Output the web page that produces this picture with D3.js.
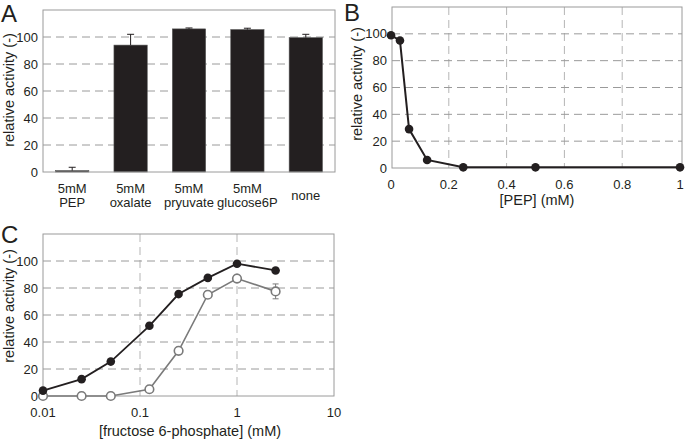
<!DOCTYPE html>
<html><head><meta charset="utf-8">
<script src="https://cdn.jsdelivr.net/npm/d3@7"></script>
<style>
html,body{margin:0;padding:0;background:#fff;}
text{font-family:"Liberation Sans",Arial,Helvetica,sans-serif;fill:#231f20;}
</style></head>
<body><svg id="c" width="685" height="439"></svg>
<script>
// Panel A data
const catA = ["5mM|PEP", "5mM|oxalate", "5mM|pryuvate", "5mM|glucose6P", "none"];
const valA = [1, 94, 106, 105.5, 99.5];
const errA = [2.5, 8, 0.7, 1, 2.5];
// Panel B data
const pepX = [0, 0.031, 0.0625, 0.125, 0.25, 0.5, 1];
const pepY = [99, 95, 29, 6, 0.5, 0.5, 0.5];
// Panel C data
const f6pX = [0.01, 0.025, 0.05, 0.125, 0.25, 0.5, 1, 2.5];
const filledY = [4, 12.5, 25.5, 52, 75.5, 87.5, 98, 93];
const openY = [0, 0, 0, 5, 33.5, 75, 87, 77.5];
const openErr = [0, 0, 0, 0, 0, 0, 0, 5.5];
const yTicks = [0, 20, 40, 60, 80, 100];
const bTicks = [0, 0.2, 0.4, 0.6, 0.8, 1];
const cTicks = [0.01, 0.1, 1, 10];

const svg = d3.select("#c");
const ink = "#231f20", gridC = "#9a9a9a", frameC = "#9a9a9a";
const dash = "8,5";

function frame(g, x0, x1, y0, y1) {
  g.append("rect").attr("x", x0).attr("y", y0).attr("width", x1 - x0).attr("height", y1 - y0)
    .attr("fill", "none").attr("stroke", frameC).attr("stroke-width", 1);
}
function yAxis(g, y, x0, x1, labX) {
  g.selectAll(".hg").data(yTicks.filter(d => d > 0)).join("line")
    .attr("x1", x0).attr("x2", x1).attr("y1", d => y(d)).attr("y2", d => y(d))
    .attr("stroke", gridC).attr("stroke-dasharray", dash);
  g.selectAll(".yt").data(yTicks).join("text")
    .attr("x", labX).attr("y", d => y(d) + 4.5).attr("text-anchor", "end")
    .attr("font-size", 13).text(d => d);
}
function yLabel(g, x, y) {
  g.append("text").attr("transform", `translate(${x},${y}) rotate(-90)`)
    .attr("text-anchor", "middle").attr("font-size", 14.5).text("relative activity (-)");
}
function panelLetter(g, t, x, y) {
  g.append("text").attr("x", x).attr("y", y).attr("font-size", 24).text(t);
}

// ---------- Panel A ----------
{
  const g = svg.append("g");
  const x0 = 43, x1 = 335, y0 = 10, y1 = 172;
  const x = d3.scaleBand().domain(catA).range([x0, x1]).paddingInner(0.43).paddingOuter(0.215);
  const y = d3.scaleLinear().domain([0, 120]).range([y1, y0]);
  yAxis(g, y, x0, x1, 38);
  g.selectAll(".bar").data(catA).join("rect")
    .attr("x", d => x(d)).attr("width", x.bandwidth())
    .attr("y", (d, i) => y(valA[i])).attr("height", (d, i) => y(0) - y(valA[i]))
    .attr("fill", ink).attr("stroke", "#555").attr("stroke-width", 0.6);
  const eb = g.selectAll(".eb").data(catA).join("g");
  eb.append("line").attr("x1", d => x(d) + x.bandwidth() / 2).attr("x2", d => x(d) + x.bandwidth() / 2)
    .attr("y1", (d, i) => y(valA[i])).attr("y2", (d, i) => y(valA[i] + errA[i]))
    .attr("stroke", ink).attr("stroke-width", 1);
  eb.append("line").attr("x1", d => x(d) + x.bandwidth() / 2 - 3.5).attr("x2", d => x(d) + x.bandwidth() / 2 + 3.5)
    .attr("y1", (d, i) => y(valA[i] + errA[i])).attr("y2", (d, i) => y(valA[i] + errA[i]))
    .attr("stroke", ink).attr("stroke-width", 1);
  frame(g, x0, x1, y0, y1);
  const lab = g.selectAll(".xl").data(catA).join("text")
    .attr("text-anchor", "middle").attr("font-size", 13);
  lab.each(function (d) {
    const parts = d.split("|");
    const t = d3.select(this);
    const cx = x(d) + x.bandwidth() / 2;
    if (parts.length === 1) {
      t.append("tspan").attr("x", cx).attr("y", 200).text(parts[0]);
    } else {
      parts.forEach((p, k) => t.append("tspan").attr("x", cx).attr("y", 193 + k * 14).text(p));
    }
  });
  yLabel(g, 14, 90);
  panelLetter(g, "A", 1, 22);
}

// ---------- Panel B ----------
{
  const g = svg.append("g");
  const x0 = 392, x1 = 682, y0 = 7, y1 = 168;
  const x = d3.scaleLinear().domain([0, 1]).range([391, 680]);
  const y = d3.scaleLinear().domain([0, 120]).range([y1, y0]);
  g.selectAll(".vg").data(bTicks.filter(d => d > 0 && d < 1)).join("line")
    .attr("x1", d => x(d)).attr("x2", d => x(d)).attr("y1", y0).attr("y2", y1)
    .attr("stroke", "#b5b5b5").attr("stroke-dasharray", dash);
  yAxis(g, y, x0, x1, 387);
  frame(g, x0, x1, y0, y1);
  g.selectAll(".xt").data(bTicks).join("text")
    .attr("x", d => x(d)).attr("y", 189).attr("text-anchor", "middle").attr("font-size", 13)
    .text(d => d3.format("")(d));
  const line = d3.line().x(d => x(d[0])).y(d => y(d[1]));
  const pts = pepX.map((v, i) => [v, pepY[i]]);
  g.append("path").attr("d", line(pts)).attr("fill", "none").attr("stroke", ink).attr("stroke-width", 2);
  g.selectAll(".pt").data(pts).join("circle").attr("cx", d => x(d[0])).attr("cy", d => y(d[1]))
    .attr("r", 4.3).attr("fill", ink);
  g.append("text").attr("x", 537).attr("y", 205).attr("text-anchor", "middle").attr("font-size", 14.5).text("[PEP] (mM)");
  yLabel(g, 362, 84);
  panelLetter(g, "B", 344, 21);
}

// ---------- Panel C ----------
{
  const g = svg.append("g");
  const x0 = 43, x1 = 334, y0 = 234, y1 = 396;
  const x = d3.scaleLog().domain([0.01, 10]).range([x0, x1]);
  const y = d3.scaleLinear().domain([0, 120]).range([y1, y0]);
  g.selectAll(".vg").data([0.1, 1]).join("line")
    .attr("x1", d => x(d)).attr("x2", d => x(d)).attr("y1", y0).attr("y2", y1)
    .attr("stroke", "#b5b5b5").attr("stroke-dasharray", dash);
  yAxis(g, y, x0, x1, 38);
  frame(g, x0, x1, y0, y1);
  g.selectAll(".xt").data(cTicks).join("text")
    .attr("x", d => x(d)).attr("y", 417).attr("text-anchor", "middle").attr("font-size", 13)
    .text(d => String(d));
  const line = d3.line().x(d => x(d[0])).y(d => y(d[1]));
  const op = f6pX.map((v, i) => [v, openY[i], openErr[i]]);
  const fp = f6pX.map((v, i) => [v, filledY[i]]);
  // open series (gray)
  g.append("path").attr("d", line(op)).attr("fill", "none").attr("stroke", "#7a7a7a").attr("stroke-width", 1.6);
  const oe = op.filter(d => d[2] > 0);
  const eg = g.selectAll(".oe").data(oe).join("g");
  eg.append("line").attr("x1", d => x(d[0])).attr("x2", d => x(d[0]))
    .attr("y1", d => y(d[1] - d[2])).attr("y2", d => y(d[1] + d[2])).attr("stroke", "#7a7a7a");
  [1, -1].forEach(s => eg.append("line").attr("x1", d => x(d[0]) - 3).attr("x2", d => x(d[0]) + 3)
    .attr("y1", d => y(d[1] + s * d[2])).attr("y2", d => y(d[1] + s * d[2])).attr("stroke", "#7a7a7a"));
  g.selectAll(".op").data(op).join("circle").attr("cx", d => x(d[0])).attr("cy", d => y(d[1]))
    .attr("r", 4.3).attr("fill", "#fff").attr("stroke", "#7a7a7a").attr("stroke-width", 1.6);
  // filled series
  g.append("path").attr("d", line(fp)).attr("fill", "none").attr("stroke", ink).attr("stroke-width", 1.8);
  g.selectAll(".fp").data(fp).join("circle").attr("cx", d => x(d[0])).attr("cy", d => y(d[1]))
    .attr("r", 4.3).attr("fill", ink);
  g.append("text").attr("x", 190).attr("y", 436).attr("text-anchor", "middle").attr("font-size", 14.5)
    .text("[fructose 6-phosphate] (mM)");
  yLabel(g, 14, 306);
  panelLetter(g, "C", 1, 243);
}
</script></body></html>
